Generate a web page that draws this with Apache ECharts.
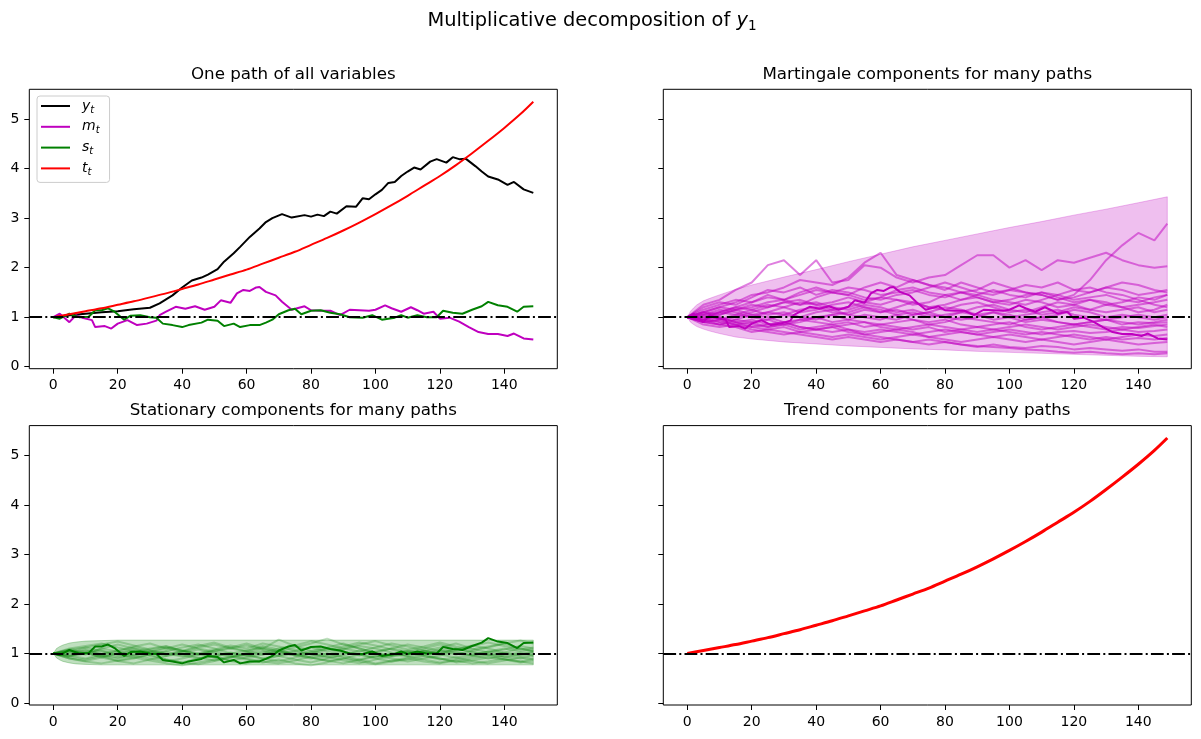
<!DOCTYPE html>
<html>
<head>
<meta charset="utf-8">
<script src="https://cdn.jsdelivr.net/npm/echarts@6/dist/echarts.min.js"></script>
<style>
html, body { margin: 0; padding: 0; background: #fff; }
#main { width: 1201px; height: 739px; }
</style>
</head>
<body>
<div id="main"></div>
<script>
// one path of all variables
var ytX = [0,5,10,15,20,25,30,33,35,37,40,43,46,48,51,53,56,58,61,64,66,68,71,74,78,80,82,84,86,88,91,94,96,98,100,102,104,106,108,110,112,114,117,119,122,124,126,128,131,133,135,138,141,143,146,149];
var ytY = [1.0,1.04,1.07,1.1,1.12,1.16,1.19,1.28,1.36,1.44,1.6,1.74,1.8,1.86,1.97,2.12,2.29,2.42,2.62,2.79,2.92,3.0,3.08,3.01,3.06,3.03,3.07,3.04,3.13,3.09,3.24,3.23,3.4,3.38,3.48,3.57,3.71,3.73,3.85,3.94,4.02,3.98,4.14,4.19,4.12,4.23,4.19,4.2,4.05,3.94,3.84,3.78,3.67,3.73,3.58,3.51];

var mtX = [0,2,5,7,9,12,13,16,18,20,23,26,29,32,33,35,38,41,44,47,50,52,55,57,59,61,63,64,66,69,71,74,78,80,83,86,89,92,95,98,100,103,105,108,111,113,115,118,120,123,126,129,132,135,138,141,143,146,149];
var mtY = [1.0,1.07,0.9,1.04,0.99,0.94,0.8,0.82,0.77,0.87,0.94,0.84,0.87,0.93,1.04,1.11,1.21,1.17,1.22,1.15,1.21,1.34,1.29,1.48,1.55,1.53,1.6,1.61,1.51,1.44,1.31,1.15,1.22,1.14,1.13,1.13,1.04,1.15,1.14,1.13,1.15,1.24,1.18,1.11,1.2,1.14,1.07,1.11,0.97,0.99,0.91,0.8,0.7,0.66,0.66,0.62,0.67,0.57,0.55];

var stX = [0,2,5,8,11,13,15,17,19,22,24,27,30,32,34,37,40,42,46,48,51,53,56,58,61,64,66,68,70,73,75,77,80,83,86,89,92,96,99,102,106,108,110,113,116,119,121,124,127,130,133,135,138,141,144,146,149];
var stY = [1.0,0.97,1.07,1.0,1.01,1.14,1.14,1.18,1.11,0.95,1.03,1.04,1.0,0.99,0.87,0.84,0.8,0.84,0.89,0.95,0.93,0.82,0.87,0.8,0.84,0.84,0.89,0.95,1.06,1.14,1.17,1.06,1.13,1.14,1.09,1.06,1.0,0.99,1.04,0.95,0.99,1.04,0.99,1.04,1.0,1.0,1.13,1.09,1.07,1.15,1.22,1.31,1.24,1.21,1.11,1.21,1.22];

var ttX = [0,5,10,15,20,25,30,35,40,45,50,55,60,65,70,75,80,85,90,95,100,105,110,115,120,125,130,135,140,145,149];
var ttY = [1.0,1.06,1.12,1.18,1.25,1.32,1.4,1.48,1.57,1.66,1.76,1.86,1.96,2.08,2.2,2.32,2.46,2.6,2.75,2.91,3.08,3.26,3.45,3.65,3.85,4.07,4.31,4.56,4.82,5.1,5.35];

// many paths, sampled every 5 steps
var pathX = [0,5,10,15,20,25,30,35,40,45,50,55,60,65,70,75,80,85,90,95,100,105,110,115,120,125,130,135,140,145,149];

var martPaths = [
  [1,1.25,1.35,1.55,1.7,2.05,2.15,1.85,2.15,1.7,1.75,2.05,2.0,1.8,1.7,1.8,1.85,2.05,2.25,2.25,2.0,2.15,1.95,2.15,2.1,2.2,2.3,2.15,2.05,2.0,2.03],
  [1,1.1,1.2,1.3,1.45,1.5,1.6,1.75,1.7,1.65,1.8,2.1,2.3,1.85,1.75,1.65,1.55,1.7,1.6,1.5,1.55,1.5,1.45,1.35,1.45,1.75,2.15,2.45,2.7,2.55,2.89],
  [1,0.95,1.1,1.2,1.3,1.45,1.35,1.5,1.6,1.5,1.45,1.6,1.7,1.6,1.75,1.65,1.6,1.5,1.55,1.7,1.6,1.5,1.45,1.35,1.4,1.5,1.6,1.55,1.45,1.5,1.55],
  [1,1.05,0.95,1.0,1.1,1.2,1.3,1.25,1.4,1.5,1.45,1.35,1.4,1.55,1.6,1.5,1.45,1.35,1.4,1.3,1.35,1.45,1.5,1.4,1.3,1.35,1.25,1.3,1.4,1.35,1.45],
  [1,1.1,1.05,1.15,1.05,1.1,1.2,1.3,1.25,1.15,1.2,1.3,1.4,1.35,1.25,1.3,1.45,1.5,1.4,1.3,1.25,1.35,1.3,1.2,1.25,1.35,1.3,1.2,1.25,1.3,1.35],
  [1,0.9,0.95,1.05,1.0,1.1,1.05,1.15,1.2,1.1,1.05,1.15,1.1,1.2,1.3,1.2,1.15,1.25,1.3,1.2,1.1,1.15,1.05,1.1,1.2,1.15,1.25,1.2,1.1,1.15,1.25],
  [1,1.05,1.15,1.1,1.0,0.95,1.05,1.0,1.1,1.15,1.05,1.0,0.95,1.05,1.1,1.0,1.05,1.1,1.2,1.25,1.15,1.1,1.2,1.3,1.25,1.15,1.1,1.15,1.2,1.1,1.15],
  [1,0.95,0.9,0.95,1.05,1.0,0.9,0.95,1.0,0.9,0.95,1.05,1.0,0.95,1.05,1.1,1.0,0.95,1.0,1.1,1.05,0.95,1.0,1.05,1.15,1.1,1.0,1.05,1.0,0.95,1.0],
  [1,1.0,0.9,0.85,0.9,0.95,0.85,0.9,1.0,1.05,0.95,0.9,0.85,0.9,0.95,0.85,0.9,1.0,0.95,0.9,0.85,0.95,1.0,0.9,0.85,0.9,0.95,0.9,0.85,0.9,0.95],
  [1,0.9,0.85,0.9,0.8,0.85,0.9,0.8,0.75,0.8,0.85,0.9,0.8,0.75,0.8,0.85,0.8,0.75,0.7,0.75,0.8,0.85,0.8,0.75,0.8,0.85,0.8,0.75,0.8,0.85,0.8],
  [1,0.95,1.0,0.9,0.85,0.8,0.85,0.75,0.8,0.85,0.75,0.7,0.75,0.7,0.65,0.7,0.75,0.7,0.65,0.7,0.75,0.7,0.65,0.7,0.72,0.68,0.7,0.75,0.7,0.72,0.75],
  [1,0.9,0.95,0.85,0.8,0.75,0.8,0.7,0.75,0.8,0.7,0.65,0.7,0.75,0.7,0.6,0.65,0.7,0.65,0.6,0.65,0.6,0.55,0.6,0.65,0.6,0.55,0.6,0.65,0.62,0.65],
  [1,0.85,0.8,0.85,0.75,0.7,0.65,0.7,0.65,0.6,0.65,0.6,0.55,0.6,0.65,0.6,0.55,0.5,0.55,0.6,0.55,0.5,0.55,0.5,0.45,0.5,0.55,0.5,0.45,0.48,0.5],
  [1,0.95,0.85,0.8,0.7,0.75,0.7,0.65,0.6,0.55,0.6,0.55,0.5,0.55,0.5,0.45,0.5,0.45,0.4,0.45,0.4,0.38,0.42,0.4,0.35,0.38,0.35,0.32,0.35,0.3,0.3],
  [1,1.1,1.0,0.9,0.95,0.85,0.9,0.8,0.75,0.7,0.75,0.65,0.6,0.55,0.5,0.55,0.5,0.45,0.42,0.4,0.38,0.35,0.33,0.3,0.28,0.3,0.27,0.25,0.27,0.25,0.27],
  [1,1.15,1.25,1.35,1.3,1.4,1.35,1.25,1.3,1.2,1.15,1.25,1.2,1.1,1.15,1.05,1.0,1.1,1.05,0.95,1.0,0.9,0.95,0.9,0.85,0.9,0.95,0.85,0.9,0.88,0.9],
  [1,1.2,1.3,1.25,1.4,1.55,1.5,1.6,1.45,1.55,1.5,1.4,1.35,1.45,1.5,1.6,1.7,1.6,1.5,1.45,1.55,1.65,1.6,1.7,1.55,1.5,1.6,1.7,1.65,1.55,1.5],
  [1,1.05,1.1,1.2,1.15,1.05,1.1,1.0,0.95,1.05,1.1,1.2,1.15,1.05,0.95,0.9,0.95,0.85,0.8,0.85,0.9,0.8,0.75,0.8,0.85,0.8,0.75,0.8,0.78,0.82,0.85],
  [1,0.95,1.05,1.15,1.25,1.2,1.3,1.35,1.25,1.3,1.4,1.3,1.25,1.35,1.3,1.2,1.25,1.35,1.45,1.55,1.45,1.4,1.5,1.45,1.35,1.4,1.45,1.35,1.3,1.4,1.45],
  [1,0.9,0.85,0.95,0.9,0.8,0.85,0.95,0.9,0.85,0.9,0.8,0.85,0.8,0.75,0.8,0.7,0.75,0.8,0.75,0.7,0.65,0.7,0.65,0.6,0.55,0.6,0.55,0.58,0.55,0.58],
  [1,1.0,1.1,1.05,1.15,1.25,1.2,1.1,1.15,1.25,1.3,1.2,1.1,1.15,1.05,1.1,1.2,1.15,1.05,1.1,1.0,1.05,1.1,1.15,1.05,1.0,0.95,1.0,1.05,1.0,1.05],
  [1,1.1,1.2,1.15,1.2,1.3,1.35,1.45,1.55,1.5,1.6,1.55,1.45,1.5,1.55,1.45,1.4,1.5,1.45,1.35,1.3,1.25,1.35,1.45,1.55,1.6,1.5,1.45,1.35,1.25,1.2]
];

var statPaths = [
  [1,1.08,1.12,1.05,0.95,1.02,1.1,1.15,1.05,0.98,1.06,1.12,1.2,1.1,1.28,1.15,1.05,0.98,1.08,1.15,1.1,1.02,0.95,1.05,1.12,1.2,1.1,1.02,1.08,1.15,1.1],
  [1,0.92,0.88,0.95,0.85,0.9,0.98,0.88,0.82,0.9,0.95,0.85,0.8,0.88,0.95,1.0,0.92,0.85,0.9,0.98,0.9,0.84,0.88,0.95,0.9,0.82,0.86,0.92,0.88,0.84,0.9],
  [1,1.05,0.98,1.1,1.18,1.1,1.02,0.95,1.05,1.15,1.22,1.12,1.05,1.15,1.08,0.98,1.05,1.12,1.2,1.1,1.02,1.1,1.18,1.12,1.05,0.98,1.05,1.12,1.2,1.1,1.05],
  [1,0.95,1.02,0.92,0.85,0.8,0.88,0.95,1.0,0.92,0.86,0.92,1.0,1.05,0.95,0.88,0.82,0.9,0.96,0.88,0.8,0.86,0.92,0.98,0.9,0.84,0.9,0.96,0.88,0.82,0.86],
  [1,1.1,1.15,1.2,1.12,1.05,0.98,1.05,1.12,1.18,1.1,1.0,0.95,1.02,1.1,1.16,1.25,1.18,1.1,1.04,1.12,1.2,1.14,1.06,1.0,1.08,1.15,1.22,1.15,1.08,1.12],
  [1,0.9,0.85,0.92,1.0,1.05,0.95,0.88,0.82,0.78,0.85,0.92,0.98,0.9,0.84,0.92,1.0,0.94,0.86,0.8,0.88,0.95,1.02,0.95,0.88,0.92,0.85,0.8,0.86,0.92,0.88],
  [1,1.02,1.08,1.0,1.06,1.14,1.2,1.1,1.02,1.08,1.0,0.94,1.02,1.1,1.04,1.12,1.2,1.3,1.18,1.1,1.02,0.96,1.04,1.1,1.18,1.1,1.02,0.96,1.02,1.1,1.04],
  [1,0.96,0.9,0.98,1.04,0.96,0.9,0.84,0.9,0.98,1.04,0.96,0.9,0.84,0.8,0.86,0.94,1.0,0.92,0.86,0.94,1.0,0.94,0.88,0.82,0.88,0.94,1.0,0.94,0.9,0.95],
  [1,1.06,1.0,0.94,1.0,1.08,1.02,1.1,1.18,1.1,1.04,1.1,1.16,1.08,1.0,1.06,1.0,1.08,1.14,1.22,1.16,1.08,1.0,1.06,1.0,1.08,1.16,1.1,1.02,0.98,1.02],
  [1,0.94,1.0,1.06,0.98,0.92,0.98,1.04,0.96,0.9,0.96,1.02,0.96,0.9,0.96,1.04,0.98,0.92,0.98,1.06,1.0,0.94,0.98,1.04,0.98,0.92,0.98,1.04,1.0,0.94,0.98],
  [1,1.04,1.12,1.18,1.24,1.16,1.08,1.14,1.06,1.0,1.08,1.16,1.1,1.2,1.14,1.06,1.12,1.04,1.1,1.18,1.25,1.16,1.08,1.14,1.22,1.14,1.08,1.14,1.2,1.26,1.2],
  [1,0.9,0.84,0.8,0.86,0.92,0.86,0.8,0.76,0.82,0.88,0.94,0.88,0.82,0.88,0.8,0.76,0.82,0.9,0.84,0.78,0.84,0.9,0.84,0.8,0.86,0.8,0.84,0.9,0.84,0.8],
  [1,1.0,1.06,0.98,0.92,0.98,1.06,1.0,0.94,1.0,0.94,1.0,1.06,1.12,1.04,0.96,0.9,0.96,1.02,0.96,1.04,1.1,1.04,0.98,1.04,1.1,1.04,0.98,0.92,0.98,1.04],
  [1,1.08,1.02,0.96,0.9,0.96,1.04,1.12,1.06,0.98,0.92,0.86,0.92,0.98,1.06,0.98,0.92,0.86,0.8,0.88,0.96,0.9,0.84,0.9,0.96,1.04,0.96,0.9,0.96,1.02,0.96],
  [1,0.96,1.02,1.1,1.04,1.12,1.06,0.98,1.04,1.12,1.18,1.1,1.04,0.98,1.04,0.96,1.02,1.1,1.04,0.98,0.92,0.98,1.06,1.0,1.08,1.02,0.96,1.04,1.1,1.04,1.08]
];

// shaded bands
var mBandX  = [0,1,2,3,5,7,10,15,20,30,40,50,60,70,80,90,100,110,120,130,140,149];
var mBandHi = [1,1.12,1.19,1.25,1.33,1.38,1.45,1.56,1.65,1.81,1.96,2.12,2.27,2.42,2.55,2.68,2.81,2.93,3.06,3.18,3.31,3.43];
var mBandLo = [1,0.9,0.85,0.81,0.76,0.72,0.67,0.6,0.56,0.5,0.46,0.42,0.39,0.36,0.34,0.31,0.29,0.27,0.25,0.23,0.21,0.2];
var sBandX  = [0,1,2,3,5,7,10,15,20,149];
var sBandHi = [1,1.1,1.14,1.17,1.21,1.23,1.25,1.26,1.27,1.27];
var sBandLo = [1,0.91,0.87,0.84,0.81,0.79,0.78,0.77,0.77,0.77];

var xTicks = [0,20,40,60,80,100,120,140];
var yTicks = [0,1,2,3,4,5];
var titles = ['One path of all variables', 'Martingale components for many paths',
              'Stationary components for many paths', 'Trend components for many paths'];

var FONT = 'DejaVu Sans';
var MAG = '#bf00bf', GRN = '#008000', RED = '#ff0000';
var gridPos = [[29.3, 89.3], [663.3, 89.3], [29.3, 425.6], [663.3, 425.6]];
var GW = 528, GH = 279.4;

function zip(xs, ys) {
    return xs.map(function (x, i) { return [x, ys[i]]; });
}

function line(name, gi, data, color, width, opacity, z, smooth) {
    return {
        name: name, type: 'line', xAxisIndex: gi, yAxisIndex: gi,
        data: data, symbol: 'none', showSymbol: false, silent: true, z: z,
        smooth: smooth || false,
        lineStyle: { color: color, width: width, opacity: opacity },
        itemStyle: { color: color }
    };
}

function band(gi, xs, lo, hi, fill) {
    return {
        type: 'custom', xAxisIndex: gi, yAxisIndex: gi, silent: true, z: 1,
        data: [[xs[0], lo[0]]],
        renderItem: function (params, api) {
            var pts = [];
            for (var i = 0; i < xs.length; i++) pts.push(api.coord([xs[i], hi[i]]));
            for (var j = xs.length - 1; j >= 0; j--) pts.push(api.coord([xs[j], lo[j]]));
            return { type: 'polygon', shape: { points: pts },
                     style: { fill: fill, stroke: fill, lineWidth: 1 } };
        }
    };
}

function hline(gi) {
    return {
        type: 'line', xAxisIndex: gi, yAxisIndex: gi, data: [], z: 10, silent: true,
        markLine: {
            symbol: ['none', 'none'], silent: true, animation: false, z: 10,
            label: { show: false },
            lineStyle: { color: '#000', width: 2, type: [12.8, 3.2, 2, 3.2] },
            data: [{ yAxis: 1 }]
        }
    };
}

var grids = [], xAxes = [], yAxes = [], titleOpts = [];
gridPos.forEach(function (p, i) {
    grids.push({ left: p[0], top: p[1], width: GW, height: GH, show: true,
                 borderColor: '#000', borderWidth: 1, backgroundColor: 'transparent' });
    xAxes.push({
        type: 'value', gridIndex: i, min: -7.45, max: 156.45,
        axisLine: { show: false, onZero: false },
        axisTick: { show: true, length: 5, lineStyle: { color: '#000', width: 1 }, customValues: xTicks },
        axisLabel: { customValues: xTicks, color: '#000', fontSize: 14, fontFamily: FONT, margin: 10 },
        splitLine: { show: false }
    });
    yAxes.push({
        type: 'value', gridIndex: i, min: -0.04, max: 5.6,
        axisLine: { show: false, onZero: false },
        axisTick: { show: true, length: 5, lineStyle: { color: '#000', width: 1 }, customValues: yTicks },
        axisLabel: { show: i % 2 === 0, customValues: yTicks, color: '#000', fontSize: 14, fontFamily: FONT, margin: 10 },
        splitLine: { show: false }
    });
    titleOpts.push({
        text: titles[i], left: p[0] + GW / 2, top: p[1] - 23, textAlign: 'center', padding: 0,
        textStyle: { fontFamily: FONT, fontSize: 16.7, fontWeight: 'normal', color: '#000' }
    });
});

titleOpts.push({
    text: '{a|Multiplicative decomposition of }{i|y}{s|1}',
    left: 592, top: 9, textAlign: 'center', padding: 0,
    textStyle: {
        fontFamily: FONT, fontSize: 19.4, fontWeight: 'normal', color: '#000',
        rich: {
            a: { fontFamily: FONT, fontSize: 19.4, color: '#000' },
            i: { fontFamily: FONT, fontSize: 19.4, fontStyle: 'italic', color: '#000' },
            s: { fontFamily: FONT, fontSize: 13.6, color: '#000', padding: [10, 0, 0, 0] }
        }
    }
});

var series = [
    line('y_t', 0, zip(ytX, ytY), '#000', 2, 1, 3),
    line('m_t', 0, zip(mtX, mtY), MAG, 2, 1, 3),
    line('s_t', 0, zip(stX, stY), GRN, 2, 1, 3),
    line('t_t', 0, zip(ttX, ttY), RED, 2, 1, 3, 0.3),
    hline(0),
    band(1, mBandX, mBandLo, mBandHi, 'rgba(191,0,191,0.25)'),
    band(2, sBandX, sBandLo, sBandHi, 'rgba(0,128,0,0.25)')
];
martPaths.forEach(function (p) { series.push(line(null, 1, zip(pathX, p), MAG, 2, 0.5, 2)); });
series.push(line(null, 1, zip(mtX, mtY), MAG, 2, 1, 3));
series.push(hline(1));
statPaths.forEach(function (p) { series.push(line(null, 2, zip(pathX, p), GRN, 2, 0.25, 2)); });
series.push(line(null, 2, zip(stX, stY), GRN, 2, 1, 3));
series.push(hline(2));
series.push(line(null, 3, zip(ttX, ttY), RED, 3, 1, 3, 0.3));
series.push(hline(3));

var chart = echarts.init(document.getElementById('main'), null, { renderer: 'canvas' });
chart.setOption({
    animation: false,
    backgroundColor: '#fff',
    title: titleOpts,
    grid: grids,
    xAxis: xAxes,
    yAxis: yAxes,
    legend: {
        data: ['y_t', 'm_t', 's_t', 't_t'],
        orient: 'vertical', left: 37, top: 96,
        padding: [3, 10, 5, 4], itemWidth: 29, itemHeight: 2, itemGap: 4.8,
        icon: 'rect', selectedMode: false,
        backgroundColor: 'rgba(255,255,255,0.8)', borderColor: '#cccccc', borderWidth: 1, borderRadius: 3,
        formatter: function (name) {
            var p = name.split('_');
            return '{i|' + p[0] + '}{s|' + p[1] + '}';
        },
        textStyle: {
            fontFamily: FONT, fontSize: 14, color: '#000',
            rich: {
                i: { fontFamily: FONT, fontSize: 14, fontStyle: 'italic', lineHeight: 18, color: '#000', padding: [0, 0, 0, 7] },
                s: { fontFamily: FONT, fontSize: 10, fontStyle: 'italic', color: '#000', padding: [8, 0, 0, 0] }
            }
        }
    },
    series: series
});
</script>
</body>
</html>
